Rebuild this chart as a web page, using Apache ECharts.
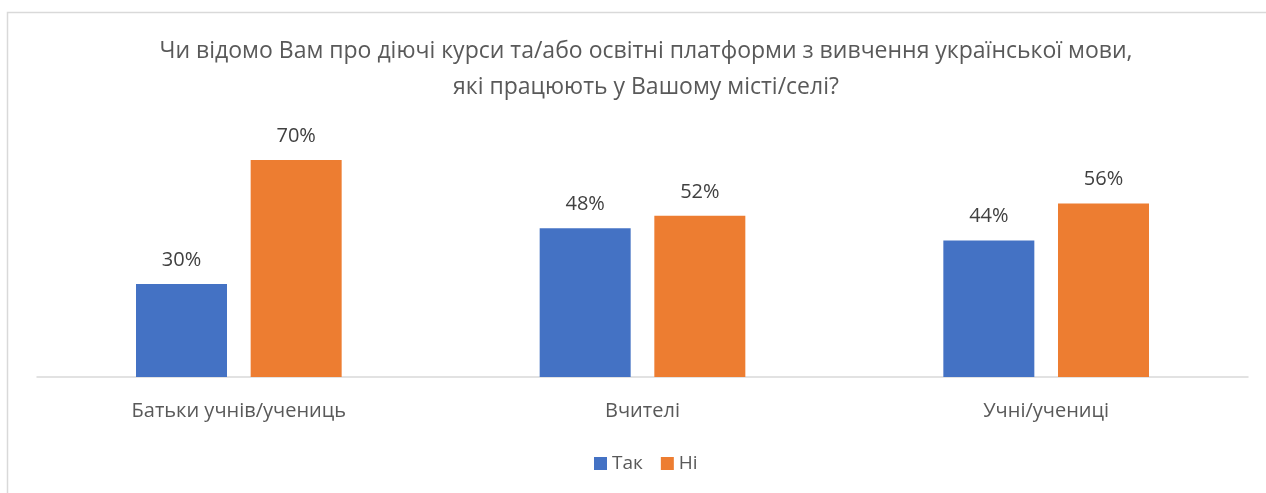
<!DOCTYPE html>
<html>
<head>
<meta charset="utf-8">
<script src="https://cdn.jsdelivr.net/npm/echarts@6/dist/echarts.min.js"></script>
<style>
html,body{margin:0;padding:0;background:#fff;}
#chart{width:1266px;height:493px;}
</style>
</head>
<body>
<div id="chart"></div>
<script>
const titleText = 'Чи відомо Вам про діючі курси та/або освітні платформи з вивчення української мови,\nякі працюють у Вашому місті/селі?';
const categories = ['Батьки учнів/учениць', 'Вчителі', 'Учні/учениці'];
const seriesNames = ['Так', 'Ні'];
const yesValues = [30, 48, 44];
const noValues = [70, 52, 56];

const FONT = '"Open Sans", "Noto Sans", sans-serif';
const chart = echarts.init(document.getElementById('chart'));
const labelCfg = {
  show: true, position: 'top', distance: 14,
  formatter: p => p.value + '%',
  color: '#404040', fontSize: 20, fontFamily: FONT
};
chart.setOption({
  animation: false,
  title: {
    text: titleText, left: 641, textAlign: 'center', top: 28,
    textStyle: { color: '#595959', fontSize: 23, fontWeight: 'normal', fontFamily: FONT, lineHeight: 36 }
  },
  graphic: [{
    type: 'rect', shape: { x: 7.5, y: 12.5, width: 1400, height: 600 },
    style: { fill: 'none', stroke: '#d9d9d9', lineWidth: 1.5 }, silent: true, z: -1
  }],
  legend: {
    data: seriesNames, bottom: 15, left: 589, itemWidth: 13, itemHeight: 13, itemGap: 18,
    icon: 'rect',
    textStyle: { color: '#595959', fontSize: 19, fontFamily: FONT }
  },
  grid: { left: 37, right: 18, top: 129, bottom: 116, containLabel: false },
  xAxis: {
    type: 'category', data: categories,
    axisLine: { lineStyle: { color: '#d9d9d9', width: 1.5 } },
    axisTick: { show: false },
    axisLabel: { color: '#595959', fontSize: 20, fontFamily: FONT, margin: 24 }
  },
  yAxis: {
    type: 'value', min: 0, max: 80, show: false, splitLine: { show: false }
  },
  series: [
    { name: seriesNames[0], type: 'bar', data: yesValues, barWidth: 91, barGap: '26%',
      itemStyle: { color: '#4472C4' }, label: labelCfg },
    { name: seriesNames[1], type: 'bar', data: noValues, barWidth: 91, barGap: '26%',
      itemStyle: { color: '#ED7D31' }, label: labelCfg }
  ]
});
</script>
</body>
</html>
